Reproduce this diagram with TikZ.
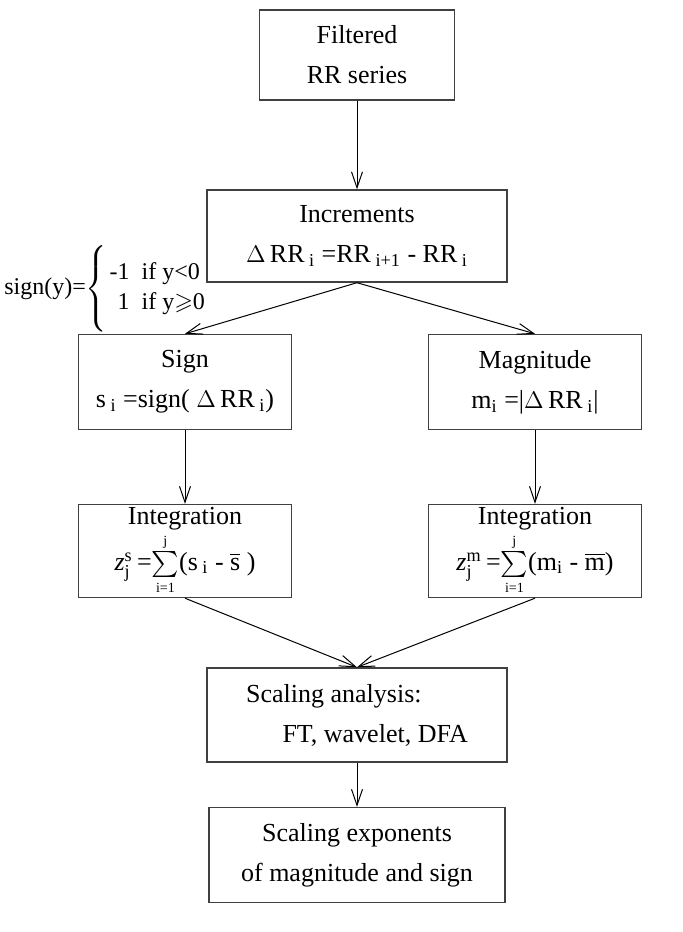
\documentclass[tikz,border=0pt]{standalone}
\usepackage{fontspec}
\setmainfont{Liberation Serif}
\usepackage{amsmath,amssymb}
\usetikzlibrary{arrows.meta}
\newcommand{\sumLim}[2]{\ensuremath{\smash[t]{\sum\limits_{\mbox{\fontsize{7}{7}\selectfont #2}}^{\mbox{\fontsize{7}{7}\selectfont #1}}}}}
\begin{document}
\begin{tikzpicture}[x=0.5pt,y=-0.5pt]

  \tikzstyle{stageBox} = [draw=black!75, line width=0.7pt, align=center, inner sep=0pt,
    font=\fontsize{13}{20}\selectfont];
  \tikzstyle{flowArrow} = [line width=0.5pt, -{Straight Barb[length=8pt,width=5.5pt]}];

  \useasboundingbox (0,0) rectangle (682,932);

  \node[stageBox, minimum width=97.5pt, minimum height=45pt] (filt) at (357,55) {Filtered\\RR series};
  \node[stageBox, minimum width=150pt, minimum height=46pt] (incr) at (357,236)
    {Increments\\$\Delta$\,RR\textsubscript{ i} =RR\textsubscript{ i+1} - RR\textsubscript{ i}};
  \node[anchor=west, inner sep=0pt, font=\fontsize{12}{15}\selectfont] (sgnDef) at (4,290)
    {sign(y)=$\left\{\rule[-20pt]{0pt}{40pt}\right.$\begin{tabular}{@{}l@{}}-1\ \ if y<0\\\phantom{-}1\ \ if y$\geqslant$0\end{tabular}};

  \node[stageBox, minimum width=106.5pt, minimum height=47.5pt] (sgn) at (185,382)
    {Sign\\s\textsubscript{ i} =sign( $\Delta$\,RR\textsubscript{ i})};
  \node[stageBox, minimum width=106.5pt, minimum height=47.5pt] (mag) at (535,382)
    {Magnitude\\m\textsubscript{i} =|$\Delta$\,RR\textsubscript{ i}|};

  \node[stageBox, minimum width=106.5pt, minimum height=46.5pt] (intS) at (185,551)
    {Integration\\[3pt]\textit{z}$^{\text{s}}_{\text{j}}$\,=\sumLim{j}{i=1}(s\textsubscript{ i} - $\overline{\text{s}}$ )};
  \node[stageBox, minimum width=106.5pt, minimum height=46.5pt] (intM) at (535,551)
    {Integration\\[3pt]\textit{z}$^{\text{m}}_{\text{j}}$\,=\sumLim{j}{i=1}(m\textsubscript{i} - $\overline{\text{m}}$)};

  \node[stageBox, align=left, minimum width=150pt, minimum height=47pt] (scal) at (357,715)
    {Scaling analysis:\\\hspace*{1.4em}FT, wavelet, DFA};
  \node[stageBox, minimum width=148pt, minimum height=47.5pt] (expo) at (357,855)
    {Scaling exponents\\of magnitude and sign};

  \draw[flowArrow] (filt) -- (incr);
  \draw[flowArrow] (incr.south) -- (sgn.north);
  \draw[flowArrow] (incr.south) -- (mag.north);
  \draw[flowArrow] (sgn) -- (intS);
  \draw[flowArrow] (mag) -- (intM);
  \draw[flowArrow] (intS.south) -- (scal.north);
  \draw[flowArrow] (intM.south) -- (scal.north);
  \draw[flowArrow] (scal) -- (expo);
\end{tikzpicture}
\end{document}
